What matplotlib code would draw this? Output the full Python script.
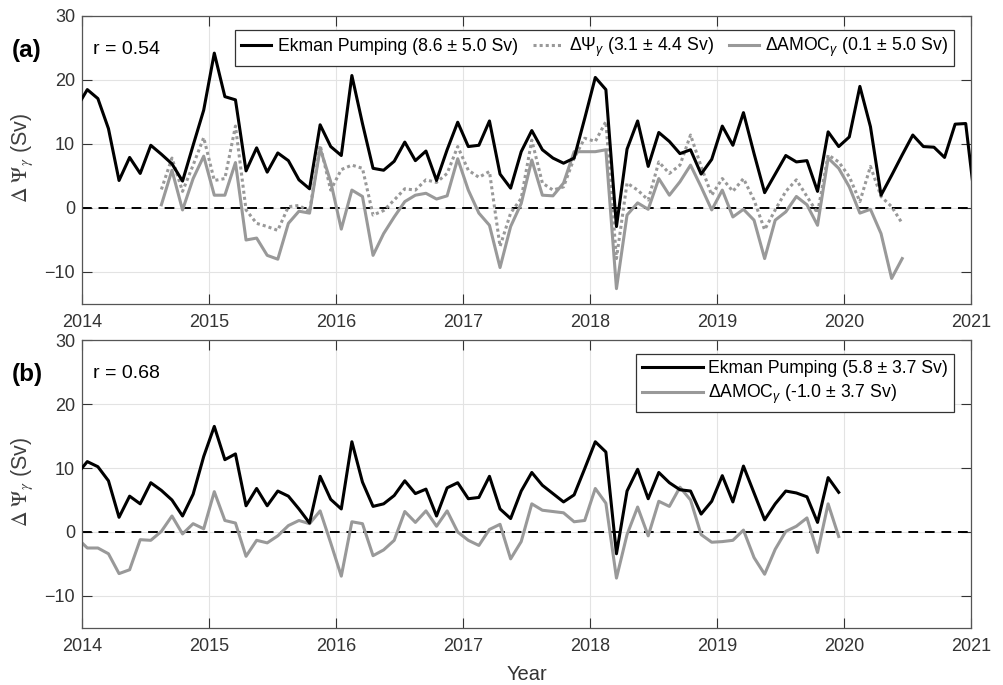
import numpy as np
import matplotlib
matplotlib.use("Agg")
import matplotlib.pyplot as plt

plt.rcParams['font.family'] = ['Liberation Sans', 'DejaVu Sans']
plt.rcParams['mathtext.fontset'] = 'custom'
plt.rcParams['mathtext.rm'] = 'Liberation Sans'
plt.rcParams['mathtext.it'] = 'Liberation Sans:italic'

# ---------------- data (monthly, mid-month) ----------------
# month index 0 = Jan 2014
ek_a_start = -1
ek_a = [15.7, 18.5, 17.1, 12.4, 4.3, 7.9, 5.4, 9.8, 8.4, 6.9, 4.2, 9.8, 15.3,
        24.2, 17.4, 16.9, 5.8, 9.4, 5.6, 8.6, 7.4, 4.4, 3.0, 13.0, 9.6, 8.2,
        20.7, 13.2, 6.2, 5.9, 7.3, 10.3, 7.4, 8.9, 4.3, 9.1, 13.4, 9.6, 9.8,
        13.6, 5.3, 3.1, 8.8, 12.1, 9.1, 7.8, 7.0, 7.8, 14.0, 20.4, 18.5, -2.9,
        9.2, 13.6, 6.5, 11.8, 10.4, 8.5, 9.1, 5.3, 7.6, 12.8, 9.8, 14.9, 8.5,
        2.4, 5.3, 8.2, 7.2, 7.4, 2.6, 11.9, 9.6, 11.1, 19.0, 12.7, 2.0, 5.1,
        8.3, 11.4, 9.6, 9.5, 7.9, 13.1, 13.2, -0.8]

psi_a_start = 7
psi_a = [2.9, 7.8, 2.6, 6.7, 11.0, 4.3, 4.6, 12.8, -0.3, -2.4, -2.9, -3.5, 0.2,
         0.4, -0.6, 9.8, 2.8, 6.0, 6.7, 6.2, -1.1, -0.4, 1.25, 3.0, 2.8, 4.4,
         4.0, 5.4, 9.6, 5.9, 4.8, 5.7, -6.0, -0.8, 1.5, 10.6, 3.9, 2.8, 3.3,
         7.8, 10.9, 10.4, 13.5, -7.9, 3.9, 2.8, 1.25, 7.2, 5.4, 6.7, 11.4, 6.5,
         2.0, 4.6, 2.6, 4.6, 1.25, -3.4, -0.3, 2.6, 4.4, 1.8, -0.8, 8.3, 7.2,
         4.9, 1.0, 6.5, 1.8, 0.2, -2.4]

amoc_a_start = 7
amoc_a = [0.5, 5.9, -0.3, 4.6, 8.1, 2.0, 2.0, 7.1, -5.0, -4.7, -7.4, -8.0, -2.4,
          -0.5, -0.8, 9.3, 4.1, -3.3, 2.8, 1.8, -7.4, -4.0, -1.4, 1.0, 2.0, 2.3,
          1.4, 1.9, 7.7, 2.8, -0.8, -2.7, -9.3, -2.9, 0.7, 7.5, 2.0, 1.9, 3.9,
          8.8, 8.8, 8.8, 9.1, -12.6, -1.1, 0.8, -0.2, 4.6, 2.0, 4.1, 6.7, 3.3,
          -0.3, 2.8, -1.4, -0.2, -1.9, -7.9, -1.9, -0.6, 1.8, 0.5, -2.7, 7.8,
          6.2, 3.3, -0.8, -0.2, -4.0, -11.0, -7.9]

ek_b_start = -1
ek_b = [9.0, 11.0, 10.2, 8.0, 2.3, 5.6, 4.4, 7.7, 6.5, 5.0, 2.5, 5.9, 11.8,
        16.5, 11.3, 12.2, 4.1, 6.8, 4.1, 6.4, 5.6, 3.6, 1.4, 8.7, 5.1, 3.6,
        14.1, 7.8, 4.0, 4.4, 5.7, 8.0, 6.0, 6.7, 2.5, 6.9, 7.7, 5.2, 5.4, 8.7,
        3.6, 2.1, 6.4, 9.3, 7.3, 6.0, 4.7, 5.8, 9.9, 14.1, 12.5, -3.4, 6.4,
        9.8, 5.2, 9.3, 7.7, 6.6, 6.4, 2.8, 4.8, 8.8, 4.7, 10.3, 6.1, 1.9, 4.4,
        6.4, 6.1, 5.5, 1.5, 8.5, 6.2]

amoc_b_start = -1
amoc_b = [-0.9, -2.5, -2.5, -3.4, -6.5, -5.9, -1.2, -1.3, 0.1, 2.5, -0.3, 1.3,
          0.5, 6.3, 1.8, 1.4, -3.8, -1.3, -1.7, -0.6, 1.0, 1.8, 1.3, 3.3, -1.7,
          -6.9, 1.6, 1.3, -3.7, -2.8, -1.3, 3.2, 1.5, 3.3, 0.9, 3.3, 0.0, -1.3,
          -2.1, 0.4, 1.2, -4.2, -1.5, 4.4, 3.4, 3.2, 3.0, 1.6, 1.8, 6.8, 4.5,
          -7.2, -0.4, 3.9, -0.6, 4.8, 4.0, 7.0, 5.0, -0.4, -1.6, -1.5, -1.3, 0.3,
          -4.0, -6.6, -2.7, 0.1, 0.9, 2.2, -3.2, 4.4, -0.7]

labels_a = ['Ekman Pumping (8.6 ± 5.0 Sv)',
            'ΔΨ$_{γ}$ (3.1 ± 4.4 Sv)',
            'ΔAMOC$_{γ}$ (0.1 ± 5.0 Sv)']
labels_b = ['Ekman Pumping (5.8 ± 3.7 Sv)',
            'ΔAMOC$_{γ}$ (-1.0 ± 3.7 Sv)']
r_a = 'r = 0.54'
r_b = 'r = 0.68'
ylabel = r'$\Delta\ \Psi_{\gamma}$ (Sv)'
xticks = list(range(2014, 2022))
yticks = [-10, 0, 10, 20, 30]


def dates(start, vals):
    return 2014 + (start + np.arange(len(vals)) + 0.5) / 12.0


# ---------------- figure ----------------
W, H = 1004, 685
fig = plt.figure(figsize=(W / 100, H / 100), dpi=100)
left = 82 / W
width = 889 / W
ax_a = fig.add_axes([left, 1 - 304 / H, width, 288 / H])
ax_b = fig.add_axes([left, 1 - 628 / H, width, 288 / H])

BLACK = '#000000'
GREY = '#999999'
AX = '#333333'
LW = 2.2
FS_TICK = 13
FS_LEG = 12.7


def style(ax):
    ax.set_xlim(2014, 2021)
    ax.set_ylim(-15, 30)
    ax.set_xticks(xticks)
    ax.set_xticklabels([str(t) for t in xticks])
    ax.set_yticks(yticks)
    ax.grid(True, color='#e3e3e3', lw=0.8)
    ax.set_axisbelow(True)
    ax.tick_params(direction='in', length=7, width=0.8, top=True, right=True,
                   labelsize=FS_TICK, colors=AX)
    ax.tick_params(axis='x', pad=7)
    ax.tick_params(axis='y', pad=5)
    for s in ax.spines.values():
        s.set_color('#555555')
        s.set_linewidth(0.9)
    ax.axhline(0, color=BLACK, lw=1.4, ls=(0, (5, 3.5)), zorder=1.5)


style(ax_a)
style(ax_b)

la1, = ax_a.plot(dates(ek_a_start, ek_a), ek_a, color=BLACK, lw=LW, zorder=4)
la2, = ax_a.plot(dates(psi_a_start, psi_a), psi_a, color=GREY, lw=LW,
                 ls=(0, (1, 1)), zorder=3)
la3, = ax_a.plot(dates(amoc_a_start, amoc_a), amoc_a, color=GREY, lw=LW, zorder=2)

lb1, = ax_b.plot(dates(ek_b_start, ek_b), ek_b, color=BLACK, lw=LW, zorder=4)
lb2, = ax_b.plot(dates(amoc_b_start, amoc_b), amoc_b, color=GREY, lw=LW, zorder=2)

leg_a = ax_a.legend([la1, la2, la3], labels_a, ncol=3, loc='upper right',
                    bbox_to_anchor=(0.981, 0.951), fontsize=FS_LEG, frameon=True,
                    fancybox=False, edgecolor=AX, framealpha=1,
                    handlelength=1.7, columnspacing=0.85, handletextpad=0.35,
                    borderpad=0.35, borderaxespad=0)
leg_a.get_frame().set_linewidth(0.9)

leg_b = ax_b.legend([lb1, lb2], labels_b, loc='upper right',
                    bbox_to_anchor=(0.981, 0.951), fontsize=FS_LEG, frameon=True,
                    fancybox=False, edgecolor=AX, framealpha=1,
                    handlelength=3.45, handletextpad=0.3, labelspacing=0.3,
                    borderpad=0.35, borderaxespad=0)
leg_b.get_frame().set_linewidth(0.9)

ax_a.text(0.0125, (304 - 49) / 288, r_a, transform=ax_a.transAxes, fontsize=14,
          va='center', ha='left', color=BLACK)
ax_b.text(0.0125, (304 - 49) / 288, r_b, transform=ax_b.transAxes, fontsize=14,
          va='center', ha='left', color=BLACK)

fig.text(12 / W, 1 - 51 / H, '(a)', fontsize=17.5, fontweight='bold',
         va='center', ha='left')
fig.text(12 / W, 1 - 375 / H, '(b)', fontsize=17.5, fontweight='bold',
         va='center', ha='left')

for yc in (158, 482):
    fig.text(22 / W, 1 - yc / H, ylabel, rotation=90, fontsize=15.5,
             color='#404040', ha='center', va='center', math_fontfamily='stix')

fig.text((82 + 889 / 2) / W, 1 - 675 / H, 'Year', fontsize=14.5, color=AX,
         ha='center', va='center')

fig.savefig('out.png', dpi=100)
